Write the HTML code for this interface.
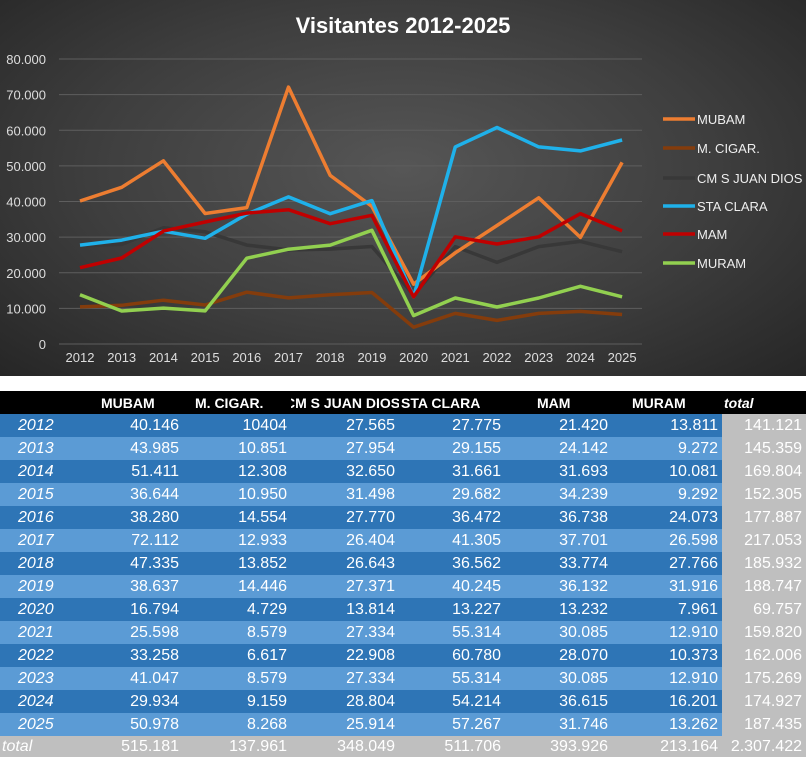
<!DOCTYPE html>
<html><head><meta charset="utf-8">
<style>
body{margin:0;width:806px;height:756px;overflow:hidden;background:#fff;font-family:"Liberation Sans Narrow","Liberation Sans",sans-serif;}
#chart{position:absolute;left:0;top:0;width:806px;height:376px;background:radial-gradient(ellipse at 50% 45%,#565656 0%,#3e3e3e 55%,#262626 100%);}
table{position:absolute;left:0;top:391px;border-collapse:collapse;width:806px;table-layout:fixed;}
td{height:23px;padding:0 4px 0 0;text-align:right;color:#fff;font-size:16px;white-space:nowrap;overflow:hidden;box-sizing:border-box;}
tr.h td{background:#000;font-weight:bold;text-align:left;height:23px;font-family:"Liberation Sans",sans-serif;font-size:14px;}
tr.d td{background:#2e75b6}
tr.l td{background:#5b9bd5}
td.y{text-align:left;font-style:italic;padding-left:18px;}
tr td.t{background:#bfbfbf !important;}
tr.tot td{background:#bfbfbf;height:21px;}
</style></head><body>
<div id="chart"><svg width="806" height="376" id="s" font-family="Liberation Sans Narrow, Liberation Sans, sans-serif"></svg></div>
<table>
<colgroup><col style="width:95px"><col style="width:88px"><col style="width:108px"><col style="width:108px"><col style="width:106px"><col style="width:107px"><col style="width:110px"><col style="width:84px"></colgroup>
<tr class="h"><td></td><td style="padding-left:6px">MUBAM</td><td style="padding-left:12px">M. CIGAR.</td><td style="text-indent:-6px">CM S JUAN DIOS</td><td style="padding-left:2px">STA CLARA</td><td style="padding-left:32px">MAM</td><td style="padding-left:20px">MURAM</td><td style="font-style:italic;padding-left:2px">total</td></tr>
</table>
<script>
const years=[];for(let y=2012;y<=2025;y++)years.push(y);
const data={
MUBAM:[40146,43985,51411,36644,38280,72112,47335,38637,16794,25598,33258,41047,29934,50978],
CIGAR:[10404,10851,12308,10950,14554,12933,13852,14446,4729,8579,6617,8579,9159,8268],
CMS:[27565,27954,32650,31498,27770,26404,26643,27371,13814,27334,22908,27334,28804,25914],
STA:[27775,29155,31661,29682,36472,41305,36562,40245,13227,55314,60780,55314,54214,57267],
MAM:[21420,24142,31693,34239,36738,37701,33774,36132,13232,30085,28070,30085,36615,31746],
MURAM:[13811,9272,10081,9292,24073,26598,27766,31916,7961,12910,10373,12910,16201,13262]};
const tot=[141121,145359,169804,152305,177887,217053,185932,188747,69757,159820,162006,175269,174927,187435];
const fmt=n=>n.toLocaleString('de-DE');
let s='';
s+='<text x="403" y="33" fill="#fff" font-size="22" font-weight="bold" text-anchor="middle" font-family="Liberation Sans, sans-serif">Visitantes 2012-2025</text>';
const Y=v=>344-v*0.0035625, X=i=>80+i*41.7;
for(let k=0;k<=8;k++){const y=Y(k*10000);s+=`<line x1="59" x2="642" y1="${y}" y2="${y}" stroke="#5e5e5e" stroke-width="1"/>`;
s+=`<text x="46" y="${y+5}" fill="#ddd" font-size="13" text-anchor="end">${k?fmt(k*10000):'0'}</text>`;}
years.forEach((yr,i)=>s+=`<text x="${X(i)}" y="362" fill="#ddd" font-size="13" text-anchor="middle">${yr}</text>`);
const ser=[['CMS','#383838','CM S JUAN DIOS'],['MUBAM','#ed7d31','MUBAM'],['CIGAR','#843c0c','M. CIGAR.'],['STA','#1fb1ea','STA CLARA'],['MAM','#c00000','MAM'],['MURAM','#92d050','MURAM']];
ser.forEach(([k,c])=>{s+=`<polyline fill="none" stroke="${c}" stroke-width="3.5" stroke-linejoin="round" points="${data[k].map((v,i)=>X(i).toFixed(1)+','+Y(v).toFixed(1)).join(' ')}"/>`;});
const leg=[['MUBAM','#ed7d31',119],['M. CIGAR.','#843c0c',148],['CM S JUAN DIOS','#383838',178],['STA CLARA','#1fb1ea',206],['MAM','#c00000',234],['MURAM','#92d050',263]];
leg.forEach(([t,c,y])=>{s+=`<line x1="663" x2="695" y1="${y}" y2="${y}" stroke="${c}" stroke-width="3.5"/><text x="697" y="${y+5}" fill="#eee" font-size="13">${t}</text>`;});
document.getElementById('s').innerHTML=s;
const tb=document.querySelector('table');let h='';
const keys=['MUBAM','CIGAR','CMS','STA','MAM','MURAM'];
years.forEach((yr,i)=>{h+=`<tr class="${i%2?'l':'d'}"><td class="y">${yr}</td>`;keys.forEach(k=>{let v=data[k][i];h+=`<td>${k=='CIGAR'&&i==0?'10404':fmt(v)}</td>`});h+=`<td class="t">${fmt(tot[i])}</td></tr>`;});
const sums=[515181,137961,348049,511706,393926,213164];
h+=`<tr class="tot"><td class="y" style="padding-left:2px">total</td>${sums.map(v=>`<td>${fmt(v)}</td>`).join('')}<td>2.307.422</td></tr>`;
tb.insertAdjacentHTML('beforeend',h);
</script>
</body></html>
